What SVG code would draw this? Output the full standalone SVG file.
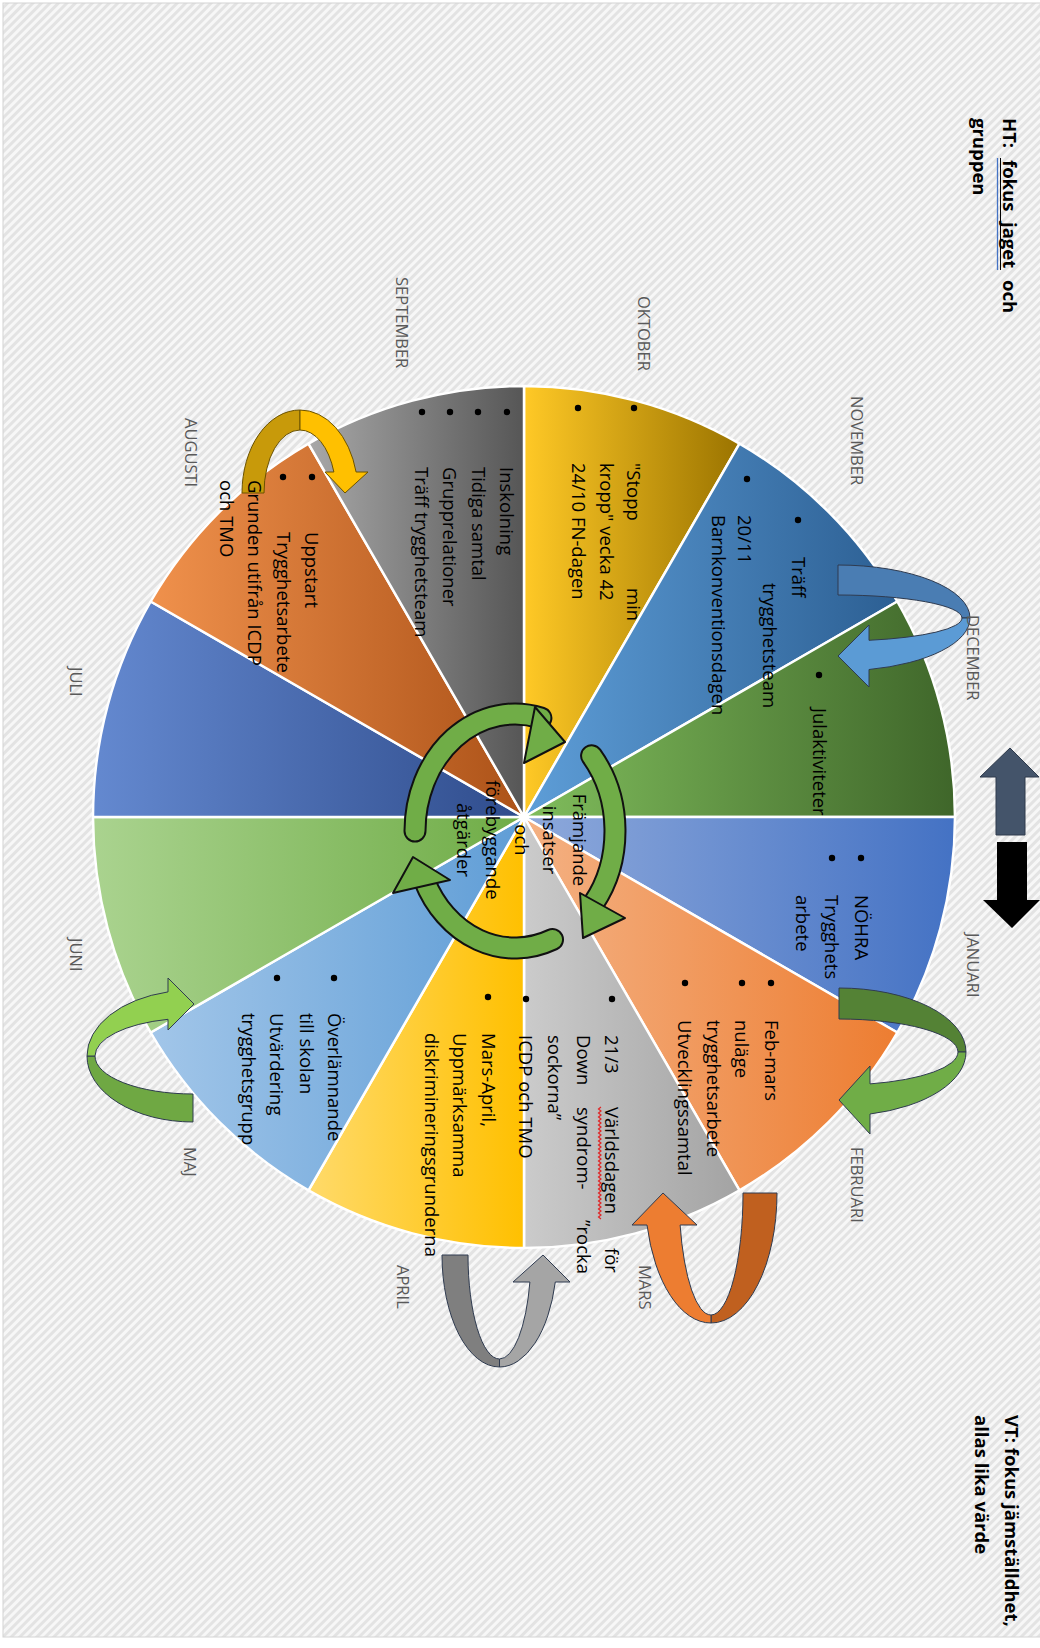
<svg xmlns="http://www.w3.org/2000/svg" width="1040" height="1648" viewBox="0 0 1040 1648">
<defs>
<pattern id="hatch" width="6" height="6" patternUnits="userSpaceOnUse" patternTransform="rotate(45)"><rect width="6" height="6" fill="#f7f7f7"/><rect width="3" height="6" fill="#e3e3e3"/></pattern>
<linearGradient id="g-okt"><stop offset="0" stop-color="#FFC926"/><stop offset="1" stop-color="#9B7400"/></linearGradient>
<linearGradient id="g-nov"><stop offset="0" stop-color="#5E9ED8"/><stop offset="1" stop-color="#2C5F93"/></linearGradient>
<linearGradient id="g-dec"><stop offset="0" stop-color="#80BD5C"/><stop offset="1" stop-color="#3F662A"/></linearGradient>
<linearGradient id="g-jan"><stop offset="0" stop-color="#8EA9DB"/><stop offset="1" stop-color="#4472C4"/></linearGradient>
<linearGradient id="g-feb"><stop offset="0" stop-color="#F4B183"/><stop offset="1" stop-color="#ED7D31"/></linearGradient>
<linearGradient id="g-mar"><stop offset="0" stop-color="#CBCBCB"/><stop offset="1" stop-color="#A3A3A3"/></linearGradient>
<linearGradient id="g-apr"><stop offset="0" stop-color="#FFDA6A"/><stop offset="1" stop-color="#FFC000"/></linearGradient>
<linearGradient id="g-maj"><stop offset="0" stop-color="#A2C6E9"/><stop offset="1" stop-color="#5F9DD6"/></linearGradient>
<linearGradient id="g-jun"><stop offset="0" stop-color="#AAD38F"/><stop offset="1" stop-color="#6FAC46"/></linearGradient>
<linearGradient id="g-jul"><stop offset="0" stop-color="#6489D0"/><stop offset="1" stop-color="#2F4C8C"/></linearGradient>
<linearGradient id="g-aug"><stop offset="0" stop-color="#F0914C"/><stop offset="1" stop-color="#AC5218"/></linearGradient>
<linearGradient id="g-sep"><stop offset="0" stop-color="#A8A8A8"/><stop offset="1" stop-color="#565656"/></linearGradient>
<style>
.t{font-family:"Open Sans","Liberation Sans",sans-serif;font-size:18.5px;fill:#000}
.b{font-weight:bold}
.m{font-family:"Open Sans","Liberation Sans",sans-serif;font-size:16.5px;fill:#5a5a5a}
.s{stroke:#fff;stroke-width:2.5;stroke-linejoin:round}
.r{stroke:#2F3B50;stroke-width:1;stroke-linejoin:round}
.ca{fill:none;stroke-linecap:round}
.co{stroke:#111;stroke-width:23}
.ci{stroke:#70AD47;stroke-width:19}
.hd{fill:#70AD47;stroke:#111;stroke-width:2;stroke-linejoin:round}
</style>
</defs>
<rect x="0" y="0" width="1040" height="1648" fill="#fff"/>
<rect x="3" y="3" width="1040" height="1634" fill="url(#hatch)" stroke="#d4d4d4" stroke-width="1"/>

<g id="pie">
<path id="slice-okt" class="s" fill="url(#g-okt)" d="M524 817 L524 386 A431 431 0 0 1 739.5 443.7 Z"/>
<path id="slice-nov" class="s" fill="url(#g-nov)" d="M524 817 L739.5 443.7 A431 431 0 0 1 897.3 601.5 Z"/>
<path id="slice-dec" class="s" fill="url(#g-dec)" d="M524 817 L897.3 601.5 A431 431 0 0 1 955 817 Z"/>
<path id="slice-jan" class="s" fill="url(#g-jan)" d="M524 817 L955 817 A431 431 0 0 1 897.3 1032.5 Z"/>
<path id="slice-feb" class="s" fill="url(#g-feb)" d="M524 817 L897.3 1032.5 A431 431 0 0 1 739.5 1190.3 Z"/>
<path id="slice-mar" class="s" fill="url(#g-mar)" d="M524 817 L739.5 1190.3 A431 431 0 0 1 524 1248 Z"/>
<path id="slice-apr" class="s" fill="url(#g-apr)" d="M524 817 L524 1248 A431 431 0 0 1 308.5 1190.3 Z"/>
<path id="slice-maj" class="s" fill="url(#g-maj)" d="M524 817 L308.5 1190.3 A431 431 0 0 1 150.7 1032.5 Z"/>
<path id="slice-jun" class="s" fill="url(#g-jun)" d="M524 817 L150.7 1032.5 A431 431 0 0 1 93 817 Z"/>
<path id="slice-jul" class="s" fill="url(#g-jul)" d="M524 817 L93 817 A431 431 0 0 1 150.7 601.5 Z"/>
<path id="slice-aug" class="s" fill="url(#g-aug)" d="M524 817 L150.7 601.5 A431 431 0 0 1 308.5 443.7 Z"/>
<path id="slice-sep" class="s" fill="url(#g-sep)" d="M524 817 L308.5 443.7 A431 431 0 0 1 524 386 Z"/>
</g>

<g id="connectors">
<g id="arrow-aug-sep">
<path class="r" style="stroke:#6B5200" fill="#C89A0A" d="M242 493 A58 83 0 0 1 300 410 L300 430 A36 63 0 0 0 264 493 Z"/>
<path class="r" style="stroke:#6B5200" fill="#FFC000" d="M300 410 A58 83 0 0 1 356.1 472 L368 472 L345 493 L325 472 L333.9 472 A36 63 0 0 0 300 430 Z"/>
</g>
<g id="arrow-nov-dec">
<path class="r" fill="#4A7DB3" d="M838 565 A132 53 0 0 1 970 618 L962 618 A124 23 0 0 0 838 595 Z"/>
<path class="r" fill="#5B9BD5" d="M970 618 A132 53 0 0 1 869 669.5 L869 687 L838 656 L869 625 L869 640.3 A124 23 0 0 0 962 618 Z"/>
</g>
<g id="arrow-jan-feb">
<path class="r" fill="#548235" d="M839 988 A127 64 0 0 1 966 1052 L958 1052 A119 33 0 0 0 839 1019 Z"/>
<path class="r" fill="#70AD47" d="M966 1052 A127 64 0 0 1 870 1114 L870 1134 L839 1100 L870 1066 L870 1083.9 A119 33 0 0 0 958 1052 Z"/>
</g>
<g id="arrow-feb-mar">
<path class="r" fill="#C0601F" d="M777 1193 A66 130 0 0 1 711 1323 L711 1315 A32 122 0 0 0 743 1193 Z"/>
<path class="r" fill="#ED7D31" d="M711 1323 A66 130 0 0 1 647 1225 L632 1225 L663 1193 L697 1225 L680.1 1225 A32 122 0 0 0 711 1315 Z"/>
</g>
<g id="arrow-mar-apr">
<path class="r" fill="#7F7F7F" d="M442 1255 A57.5 112 0 0 0 499.5 1367 L499.5 1359 A31.5 104 0 0 1 468 1255 Z"/>
<path class="r" fill="#A5A5A5" d="M499.5 1367 A57.5 112 0 0 0 555.3 1282 L570 1282 L543 1255 L513 1282 L529.9 1282 A31.5 104 0 0 1 499.5 1359 Z"/>
</g>
<g id="arrow-maj-jun">
<path class="r" fill="#6FA843" d="M193 1122 A106 66 0 0 1 87 1056 L95 1056 A98 38 0 0 0 193 1094 Z"/>
<path class="r" fill="#92D050" d="M87 1056 A106 66 0 0 1 168 991.9 L168 978 L194 1004 L168 1030 L168 1019.3 A98 38 0 0 0 95 1056 Z"/>
</g>
<g id="arrow-up-down">
<path fill="#44546A" stroke="#2F3B4C" stroke-width="1" d="M1010 748 L1039 777 L1025 777 L1025 835 L996 835 L996 777 L980 777 Z"/>
<path fill="#000" d="M997 842 L1027 842 L1027 900 L1040 900 L1012 928 L983 900 L997 900 Z"/>
</g>
<g id="cycle">
<path class="ca co" d="M415 831 A100 117 0 0 1 540.9 718"/>
<path class="ca ci" d="M415 831 A100 117 0 0 1 540.9 718"/>
<path class="hd" d="M535 707 L565 742 L524 763 Z"/>
<path class="ca co" d="M591.6 755.8 A100 117 0 0 1 593.8 903"/>
<path class="ca ci" d="M591.6 755.8 A100 117 0 0 1 593.8 903"/>
<path class="hd" d="M580 893 L625 918 L583 938 Z"/>
<path class="ca co" d="M552.5 939.5 A100 117 0 0 1 424.4 880.4"/>
<path class="ca ci" d="M552.5 939.5 A100 117 0 0 1 424.4 880.4"/>
<path class="hd" d="M393 893 L450 880 L413 857 Z"/>
</g>
</g>

<g id="months">
<text class="m" transform="translate(396 277) rotate(90)">SEPTEMBER</text>
<text class="m" transform="translate(638 296) rotate(90)">OKTOBER</text>
<text class="m" transform="translate(851 396) rotate(90)">NOVEMBER</text>
<text class="m" transform="translate(967 615) rotate(90)">DECEMBER</text>
<text class="m" transform="translate(967 933) rotate(90)">JANUARI</text>
<text class="m" transform="translate(851 1147) rotate(90)">FEBRUARI</text>
<text class="m" transform="translate(639 1265) rotate(90)">MARS</text>
<text class="m" transform="translate(397 1265) rotate(90)">APRIL</text>
<text class="m" transform="translate(184 1147) rotate(90)">MAJ</text>
<text class="m" transform="translate(70 938) rotate(90)">JUNI</text>
<text class="m" transform="translate(70 667) rotate(90)">JULI</text>
<text class="m" transform="translate(185 418) rotate(90)">AUGUSTI</text>
</g>

<g id="title-ht">
<text class="t b" transform="translate(1003 118) rotate(90)">HT:</text>
<text class="t b" transform="translate(1003 160) rotate(90)">fokus</text>
<text class="t b" transform="translate(1003 222) rotate(90)">jaget</text>
<text class="t b" transform="translate(1003 280) rotate(90)">och</text>
<text class="t b" transform="translate(973 118) rotate(90)">gruppen</text>
<line x1="1000.5" y1="158" x2="1000.5" y2="270" stroke="#000" stroke-width="1"/>
<line x1="997.5" y1="158" x2="997.5" y2="270" stroke="#4472C4" stroke-width="1.3"/>
</g>
<g id="title-vt">
<text class="t b" transform="translate(1005 1415) rotate(90)">VT: fokus jämställdhet,</text>
<text class="t b" transform="translate(975 1415) rotate(90)">allas lika värde</text>
</g>

<g id="text-sep">
<circle cx="507" cy="412" r="3.2"/><circle cx="478" cy="412" r="3.2"/><circle cx="450" cy="412" r="3.2"/><circle cx="422" cy="412" r="3.2"/>
<text class="t" transform="translate(500 467) rotate(90)">Inskolning</text>
<text class="t" transform="translate(472 467) rotate(90)">Tidiga samtal</text>
<text class="t" transform="translate(443 467) rotate(90)">Grupprelationer</text>
<text class="t" transform="translate(415 467) rotate(90)">Träff trygghetsteam</text>
</g>
<g id="text-okt">
<circle cx="634" cy="408" r="3.2"/><circle cx="578" cy="408" r="3.2"/>
<text class="t" transform="translate(627 463) rotate(90)">"Stopp</text>
<text class="t" transform="translate(627 588) rotate(90)">min</text>
<text class="t" transform="translate(600 463) rotate(90)">kropp" vecka 42</text>
<text class="t" transform="translate(572 463) rotate(90)">24/10 FN-dagen</text>
</g>
<g id="text-nov">
<circle cx="798" cy="520" r="3.2"/><circle cx="747" cy="479" r="3.2"/>
<text class="t" transform="translate(792 557) rotate(90)">Träff</text>
<text class="t" transform="translate(763 583) rotate(90)">trygghetsteam</text>
<text class="t" transform="translate(738 515) rotate(90)">20/11</text>
<text class="t" transform="translate(712 515) rotate(90)">Barnkonventionsdagen</text>
</g>
<g id="text-dec">
<circle cx="819" cy="675" r="3.2"/>
<text class="t" transform="translate(813 708) rotate(90)">Julaktiviteter</text>
</g>
<g id="text-jan">
<circle cx="861" cy="858" r="3.2"/><circle cx="832" cy="858" r="3.2"/>
<text class="t" transform="translate(855 895) rotate(90)">NÖHRA</text>
<text class="t" transform="translate(825 895) rotate(90)">Trygghets</text>
<text class="t" transform="translate(796 895) rotate(90)">arbete</text>
</g>
<g id="text-feb">
<circle cx="771" cy="983" r="3.2"/><circle cx="742" cy="983" r="3.2"/><circle cx="685" cy="983" r="3.2"/>
<text class="t" transform="translate(765 1020) rotate(90)">Feb-mars</text>
<text class="t" transform="translate(735 1020) rotate(90)">nuläge</text>
<text class="t" transform="translate(707 1020) rotate(90)">trygghetsarbete</text>
<text class="t" transform="translate(678 1020) rotate(90)">Utvecklingssamtal</text>
</g>
<g id="text-mar">
<circle cx="612" cy="999" r="3.2"/><circle cx="526" cy="999" r="3.2"/>
<text class="t" transform="translate(605 1035) rotate(90)">21/3</text>
<text class="t" transform="translate(605 1107) rotate(90)">Världsdagen</text>
<text class="t" transform="translate(605 1248) rotate(90)">för</text>
<text class="t" transform="translate(577 1035) rotate(90)">Down</text>
<text class="t" transform="translate(577 1107) rotate(90)">syndrom-</text>
<text class="t" transform="translate(577 1220) rotate(90)">”rocka</text>
<text class="t" transform="translate(548 1035) rotate(90)">sockorna”</text>
<text class="t" transform="translate(519 1035) rotate(90)">ICDP och TMO</text>
<path fill="none" stroke="#E02424" stroke-width="1.2" d="M601 1107 l-2.5 2 l2.5 2 l-2.5 2 l2.5 2 l-2.5 2 l2.5 2 l-2.5 2 l2.5 2 l-2.5 2 l2.5 2 l-2.5 2 l2.5 2 l-2.5 2 l2.5 2 l-2.5 2 l2.5 2 l-2.5 2 l2.5 2 l-2.5 2 l2.5 2 l-2.5 2 l2.5 2 l-2.5 2 l2.5 2 l-2.5 2 l2.5 2 l-2.5 2 l2.5 2 l-2.5 2 l2.5 2 l-2.5 2 l2.5 2 l-2.5 2 l2.5 2 l-2.5 2 l2.5 2 l-2.5 2 l2.5 2 l-2.5 2 l2.5 2 l-2.5 2 l2.5 2 l-2.5 2 l2.5 2 l-2.5 2 l2.5 2 l-2.5 2 l2.5 2 l-2.5 2 l2.5 2 l-2.5 2 l2.5 2 l-2.5 2 l2.5 2 l-2.5 2 l2.5 2"/>
</g>
<g id="text-apr">
<circle cx="488" cy="997" r="3.2"/>
<text class="t" transform="translate(482 1033) rotate(90)">Mars-April,</text>
<text class="t" transform="translate(453 1033) rotate(90)">Uppmärksamma</text>
<text class="t" transform="translate(425 1033) rotate(90)">diskrimineringsgrunderna</text>
</g>
<g id="text-maj">
<circle cx="334" cy="978" r="3.2"/><circle cx="277" cy="978" r="3.2"/>
<text class="t" transform="translate(328 1013) rotate(90)">Överlämnande</text>
<text class="t" transform="translate(300 1013) rotate(90)">till skolan</text>
<text class="t" transform="translate(270 1013) rotate(90)">Utvärdering</text>
<text class="t" transform="translate(242 1013) rotate(90)">trygghetsgrupp</text>
</g>
<g id="text-aug">
<circle cx="312" cy="477" r="3.2"/><circle cx="283" cy="477" r="3.2"/>
<text class="t" transform="translate(305 532) rotate(90)">Uppstart</text>
<text class="t" transform="translate(277 532) rotate(90)">Trygghetsarbete</text>
<text class="t" transform="translate(248 480) rotate(90)">Grunden utifrån ICDP</text>
<text class="t" transform="translate(220 480) rotate(90)">och TMO</text>
</g>
<g id="text-center" text-anchor="middle">
<text class="t" transform="translate(573 840) rotate(90)">Främjande</text>
<text class="t" transform="translate(543 840) rotate(90)">insatser</text>
<text class="t" transform="translate(515 840) rotate(90)">och</text>
<text class="t" transform="translate(486 840) rotate(90)">förebyggande</text>
<text class="t" transform="translate(457 840) rotate(90)">åtgärder</text>
</g>
</svg>
